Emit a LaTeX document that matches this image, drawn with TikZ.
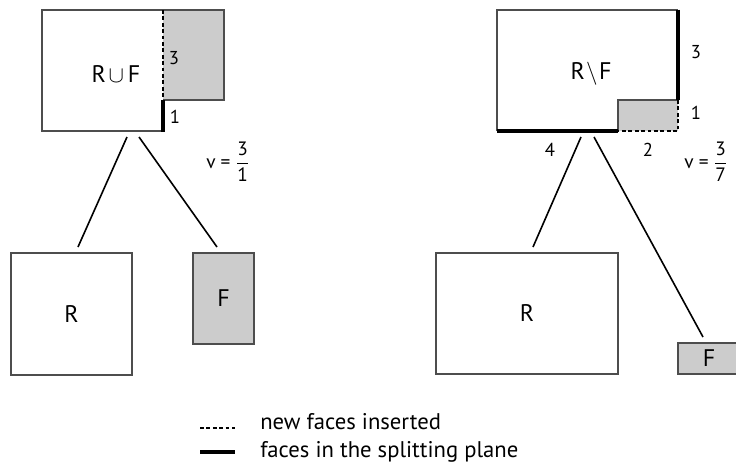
\documentclass[tikz,border=0pt]{standalone}
\usepackage{fontspec}
\usepackage{amsmath}
\setmainfont{PT Sans}
\definecolor{fillg}{HTML}{CCCCCC}
\definecolor{edge}{HTML}{4D4D4D}
\begin{document}
\begin{tikzpicture}[x=0.75pt,y=-0.75pt,
  box/.style={draw=edge, line width=0.8pt},
  split/.style={line width=2.4pt, line cap=butt},
  newf/.style={line width=1pt, dash pattern=on 2.8pt off 2pt},
  link/.style={line width=1.2pt, line cap=butt},
  lab/.style={font=\fontsize{18}{20}\selectfont, inner sep=0pt},
  num/.style={font=\fontsize{14}{16}\selectfont, inner sep=0pt},
  vlab/.style={font=\fontsize{14.5}{16}\selectfont, inner sep=0pt, anchor=west},
  leg/.style={font=\fontsize{17}{19}\selectfont, inner sep=0pt, anchor=base west},
  cell/.style={box, inner sep=0pt, font=\fontsize{18}{20}\selectfont},
]
\useasboundingbox (0,0) rectangle (736,464);

% ---------- left: R union F ----------
\fill[fillg] (163,10) rectangle (224,100);
\draw[box] (163,100) -- (224,100) -- (224,10) -- (42,10) -- (42,131) -- (163,131);
\draw[newf] (163,10) -- (163,100);
\draw[split] (163,100) -- (163,131.5);
\node[lab] (ruf) at (116,74) {R\hspace{2pt}$\cup$\hspace{3pt}F};
\node[num] (la3) at (174,58) {3};
\node[num] (la1) at (175,117) {1};
\node[vlab] (lv) at (206,162) {v = $\dfrac{\text{3}}{\text{1}}$};

\node[cell, minimum width=90.75pt, minimum height=91.5pt] (lr) at (71.5,314) {R};
\node[cell, fill=fillg, minimum width=45.75pt, minimum height=68.25pt] (lf) at (223.5,298.5) {F};

\coordinate (la) at (127,137);
\coordinate (lb) at (78,247);
\coordinate (lc) at (139,137);
\coordinate (ld) at (217,247);
\draw[link] (la) -- (lb);
\draw[link] (lc) -- (ld);

% ---------- right: R minus F ----------
\fill[fillg] (618,100) rectangle (678,131);
\draw[box] (678,10) -- (497,10) -- (497,131);
\draw[box] (618,131) -- (618,100) -- (678,100);
\draw[split] (678,9.5) -- (678,100);
\draw[split] (496.5,131) -- (618,131);
\draw[newf] (678,100) -- (678,131) -- (618,131);
\node[lab] (rmf) at (591,74) {R\hspace{1pt}$\setminus$\hspace{1pt}F};
\node[num] (ra3) at (696,52) {3};
\node[num] (ra1) at (696,113) {1};
\node[num] (ra4) at (550,150) {4};
\node[num] (ra2) at (648,150) {2};
\node[vlab] (rv) at (684,162) {v = $\dfrac{\text{3}}{\text{7}}$};

\node[cell, minimum width=136.5pt, minimum height=90.75pt] (rr) at (527,313.5) {R};
\node[cell, fill=fillg, minimum width=46.5pt, minimum height=23.25pt] (rf) at (709,358.5) {F};

\coordinate (ra) at (581,137);
\coordinate (rb) at (533,247);
\coordinate (rc) at (594,137);
\coordinate (rd) at (703,337);
\draw[link] (ra) -- (rb);
\draw[link] (rc) -- (rd);

% ---------- legend ----------
\coordinate (d1) at (200,428);
\coordinate (d2) at (235,428);
\coordinate (s1) at (200,452);
\coordinate (s2) at (235,452);
\draw[newf] (d1) -- (d2);
\draw[split] (s1) -- (s2);
\node[leg] (t1) at (260,429) {new faces inserted};
\node[leg] (t2) at (260,457) {faces in the splitting plane};
\end{tikzpicture}
\end{document}
